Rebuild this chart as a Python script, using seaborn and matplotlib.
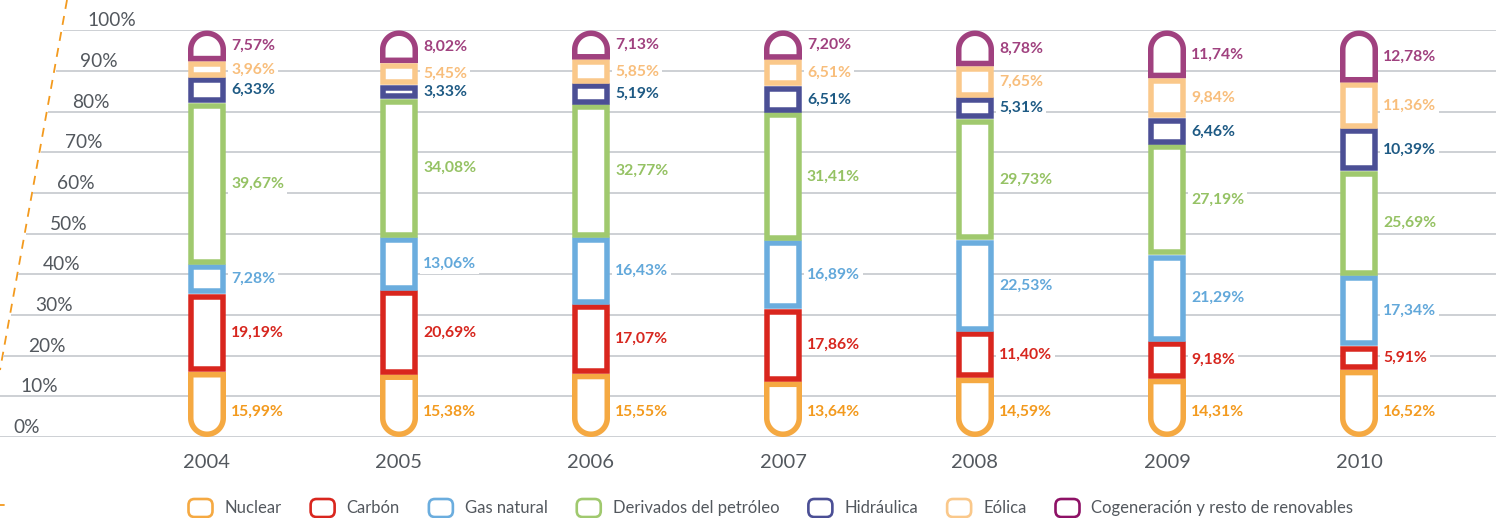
import numpy as np
import matplotlib
matplotlib.use("Agg")
import matplotlib.pyplot as plt
from matplotlib.path import Path
from matplotlib.patches import PathPatch, FancyBboxPatch
import seaborn as sns

# ---- data ---------------------------------------------------------------
years = ["2004", "2005", "2006", "2007", "2008", "2009", "2010"]
sources = ["Nuclear", "Carbón", "Gas natural", "Derivados del petróleo",
           "Hidráulica", "Eólica", "Cogeneración y resto de renovables"]
nuclear = [15.99, 15.38, 15.55, 13.64, 14.59, 14.31, 16.52]
carbon = [19.19, 20.69, 17.07, 17.86, 11.40, 9.18, 5.91]
gas_natural = [7.28, 13.06, 16.43, 16.89, 22.53, 21.29, 17.34]
petroleo = [39.67, 34.08, 32.77, 31.41, 29.73, 27.19, 25.69]
hidraulica = [6.33, 3.33, 5.19, 6.51, 5.31, 6.46, 10.39]
eolica = [3.96, 5.45, 5.85, 6.51, 7.65, 9.84, 11.36]
cogeneracion = [7.57, 8.02, 7.13, 7.20, 8.78, 11.74, 12.78]
y_ticks = [0, 10, 20, 30, 40, 50, 60, 70, 80, 90, 100]

series = [nuclear, carbon, gas_natural, petroleo, hidraulica, eolica, cogeneracion]
bar_colors = ["#F5A942", "#D9261E", "#6BADDE", "#A0C96E", "#4B4F95", "#FAC88A", "#A0417F"]
text_colors = ["#F39A1E", "#D7261E", "#62A8DA", "#95C264", "#1E5A84", "#F8BE7C", "#A0417F"]
legend_colors = ["#F5A942", "#D9261E", "#6BADDE", "#A0C96E", "#4B4F95", "#FAC88A", "#8E1166"]

# ---- figure geometry (pixels) --------------------------------------------
W, H = 1496, 518
DPI = 100
Y0_PX, Y100_PX = 437.0, 30.5          # 0 % and 100 % baselines
PX_PER_PCT = (Y0_PX - Y100_PX) / 100
X0_PX, STEP_PX = 207.0, 192.0          # first category centre, spacing
BAR_OUTER_PX = 38.0
STROKE_PX = 5.5
GREY = "#53585E"

sns.set_theme(style="white")
plt.rcParams["font.family"] = ["Lato", "DejaVu Sans"]

fig = plt.figure(figsize=(W / DPI, H / DPI), dpi=DPI, facecolor="white")

# pixel overlay for the free-standing decorations
pax = fig.add_axes([0, 0, 1, 1], zorder=0)
pax.set_xlim(0, W)
pax.set_ylim(H, 0)
pax.axis("off")

ax = fig.add_axes([0, (H - Y0_PX) / H, 1, (Y0_PX - Y100_PX) / H], zorder=1)
ax.patch.set_alpha(0)


def px2x(px):
    return (px - X0_PX) / STEP_PX


# slanted grid lines
grid_start = [px2x(-12 + 7.5 * k) for k in range(len(y_ticks))]
ax.hlines(y_ticks, grid_start, px2x(W + 5), color="#CDD0D4", lw=1.4, zorder=0)

# ---- stacked segments ----------------------------------------------------
bar_w = (BAR_OUTER_PX - STROKE_PX) / STEP_PX
inset = STROKE_PX / 2 / PX_PER_PCT
cap_ry = (BAR_OUTER_PX - STROKE_PX) / 2 / PX_PER_PCT
lw_pt = STROKE_PX * 72 / DPI


def segment_path(x0, x1, y0, y1, round_bottom, round_top):
    rx = (x1 - x0) / 2
    cx = (x0 + x1) / 2
    verts = []
    if round_bottom:
        t = np.linspace(np.pi, 2 * np.pi, 40)
        verts += list(zip(cx + rx * np.cos(t), y0 + cap_ry + cap_ry * np.sin(t)))
    else:
        verts += [(x0, y0), (x1, y0)]
    if round_top:
        t = np.linspace(0, np.pi, 40)
        verts += list(zip(cx + rx * np.cos(t), y1 - cap_ry + cap_ry * np.sin(t)))
    else:
        verts += [(x1, y1), (x0, y1)]
    verts.append(verts[0])
    codes = [Path.MOVETO] + [Path.LINETO] * (len(verts) - 2) + [Path.CLOSEPOLY]
    return Path(verts, codes)


bottoms = np.zeros(len(years))
n_series = len(series)
for j, vals in enumerate(series):
    vals = np.asarray(vals, dtype=float)
    before = len(ax.patches)
    sns.barplot(x=years, y=vals, color="white", saturation=1, width=bar_w,
                edgecolor=bar_colors[j], linewidth=lw_pt, errorbar=None,
                order=years, ax=ax, zorder=3)
    rects = ax.patches[before:]
    for i, rect in enumerate(rects):
        y0 = bottoms[i] + inset
        y1 = bottoms[i] + vals[i] - inset
        if j in (0, n_series - 1):
            x0 = rect.get_x()
            x1 = x0 + rect.get_width()
            path = segment_path(x0, x1, y0, y1, j == 0, j == n_series - 1)
            rect.remove()
            ax.add_patch(PathPatch(path, facecolor="white", edgecolor=bar_colors[j],
                                   lw=lw_pt, joinstyle="miter", zorder=3))
        else:
            rect.set_y(y0)
            rect.set_height(y1 - y0)
            rect.set_joinstyle("miter")

        # value label
        lx = i + px2x(X0_PX + BAR_OUTER_PX / 2 + 5)
        ly = 6.2 if j == 0 else bottoms[i] + vals[i] / 2
        label = f"{vals[i]:.2f}".replace(".", ",") + "%"
        ax.text(lx, ly, label, color=text_colors[j], fontsize=11.3, fontweight="bold",
                ha="left", va="center", zorder=4,
                bbox=dict(boxstyle="square,pad=0.2", fc="white", ec="none"))
    bottoms += vals

ax.set_xlim(px2x(0), px2x(W))
ax.set_ylim(0, 100)
ax.set_xlabel("")
ax.set_ylabel("")
ax.set_yticks([])
ax.set_xticks(range(len(years)))
ax.set_xticklabels(years, fontsize=14.5, color=GREY)
ax.tick_params(axis="x", length=0, pad=12)
for s in ax.spines.values():
    s.set_visible(False)

# slanted percentage labels
for k, v in enumerate(y_ticks):
    gy = Y0_PX - v * PX_PER_PCT
    pax.text(13 + 7.4 * k, gy - 9.5, f"{v}%", fontsize=13.8, color=GREY,
             ha="left", va="center")

# orange dashed guide
pax.plot([67, 0], [0, 370], color="#F39A1E", lw=1.3, ls=(0, (5, 4)))
pax.plot([0, 4], [505, 505], color="#F39A1E", lw=1.3)

# ---- legend ----------------------------------------------------------------
renderer = fig.canvas.get_renderer()
mk_w, mk_h, gap_mk, gap_item = 24, 18, 12, 29
legend_y = 508
texts = []
widths = []
for name in sources:
    t = pax.text(0, legend_y, name, fontsize=12, color=GREY, ha="left", va="center")
    texts.append(t)
    widths.append(t.get_window_extent(renderer).width)
total = sum(mk_w + gap_mk + w for w in widths) + gap_item * (len(sources) - 1)
x = 771 - total / 2
for name, t, w, c in zip(sources, texts, widths, legend_colors):
    pax.add_patch(FancyBboxPatch((x, legend_y - mk_h / 2), mk_w, mk_h,
                                 boxstyle="round,pad=0,rounding_size=6",
                                 fc="white", ec=c, lw=1.9))
    t.set_x(x + mk_w + gap_mk)
    x += mk_w + gap_mk + w + gap_item

fig.savefig("out.png", dpi=DPI, facecolor="white")
